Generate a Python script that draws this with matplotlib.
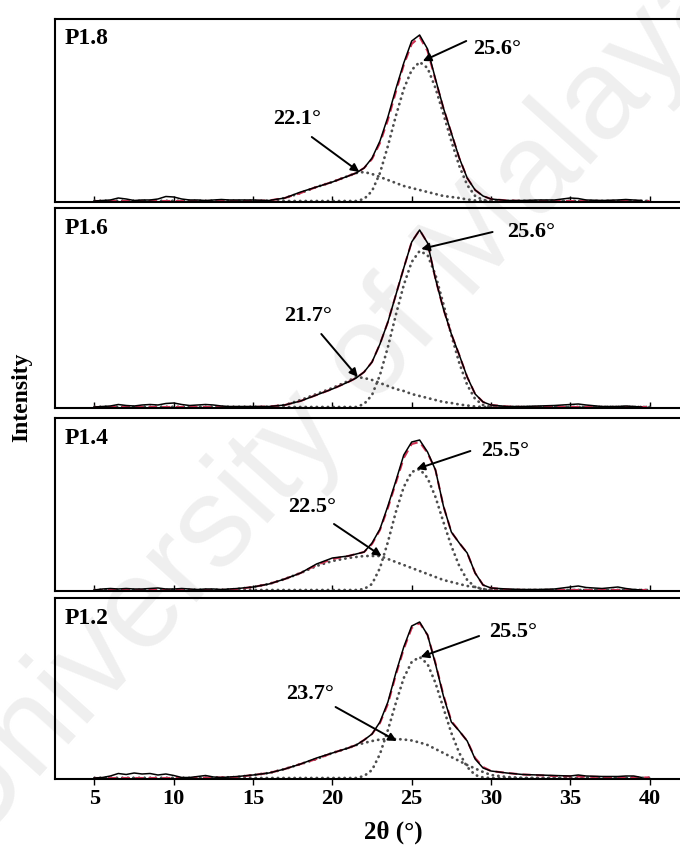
import matplotlib.pyplot as plt

# ---- data (intensity in arbitrary units) ----
panel_names = ['P1.8', 'P1.6', 'P1.4', 'P1.2']

# common 2theta grid for the fitted curves and the two components
two_theta_fit = [5, 7, 9, 11, 13, 14, 15, 16, 17, 18, 19, 20, 21,
                 21.5, 22, 22.5, 23, 23.5, 24, 24.5, 25, 25.5, 26, 26.5, 27,
                 27.5, 28, 28.5, 29, 29.5, 30, 31, 32, 34, 37, 40]

fit_sum = {
    'P1.8': [0, 0, 0, 0, 0, 0, 0, 0.5, 3, 8, 14, 19, 25,
             28, 33, 42, 58, 81, 109, 136, 157, 164, 150, 121, 93,
             68, 43, 23, 11, 5, 2, 0.5, 0, 0, 0, 0],
    'P1.6': [0, 0, 0, 0, 0, 0, 0, 0.5, 2, 6, 12, 18, 25,
             29, 35, 45, 63, 85, 112, 139, 165, 177, 164, 128, 98,
             73, 52, 30, 13, 5, 2, 0.5, 0, 0, 0, 0],
    'P1.4': [0, 0, 0, 0, 0, 1, 3, 6, 11, 17, 25, 31, 34,
             36, 38, 46, 60, 82, 107, 132, 146, 148, 137, 120, 84,
             58, 47, 37, 17, 5, 2, 0.5, 0, 0, 0, 0],
    'P1.2': [0, 0, 0, 0, 0.5, 1, 3, 5, 9, 14, 19, 25, 30,
             33, 38, 44, 55, 74, 103, 129, 150, 155, 143, 115, 83,
             57, 47, 37, 20, 11, 7, 5, 3.5, 2, 1, 0.5],
}

peak_main = {
    'P1.8': [0] * 13 + [0, 2, 10, 28, 55, 85, 112, 131, 139, 133, 113, 87,
                        60, 35, 16, 5, 1, 0] + [0] * 5,
    'P1.6': [0] * 13 + [0, 3, 12, 32, 60, 92, 122, 145, 156, 152, 132, 103,
                        72, 44, 22, 8, 2, 0] + [0] * 5,
    'P1.4': [0] * 13 + [0, 1, 6, 22, 48, 78, 103, 118, 121, 112, 93, 68,
                        44, 24, 10, 3, 0.5, 0] + [0] * 5,
    'P1.2': [0] * 13 + [0, 2, 8, 24, 48, 75, 100, 116, 121, 114, 95, 70,
                        45, 25, 11, 3, 0.5, 0] + [0] * 5,
}

peak_low = {
    'P1.8': [0, 0, 0, 0, 0, 0, 0, 0, 3, 8, 14, 19, 25,
             28, 29, 27, 24, 21, 18, 15, 13, 11, 9, 7, 5,
             4, 3, 1.5, 0.5, 0, 0, 0, 0, 0, 0, 0],
    'P1.6': [0, 0, 0, 0, 0, 0, 0, 0, 2, 7, 13, 19, 26,
             30, 29, 27, 24, 21, 18, 16, 13, 11, 9, 7, 5,
             4, 2.5, 1.5, 0.5, 0, 0, 0, 0, 0, 0, 0],
    'P1.4': [0, 0, 0, 0, 0, 1, 3, 6, 11, 17, 24, 29, 32,
             33, 34, 34, 34, 31, 28, 25, 22, 19, 16, 13, 10,
             8, 6, 4, 3, 1, 0, 0, 0, 0, 0, 0],
    'P1.2': [0, 0, 0, 0, 0.5, 1, 3, 5, 9, 14, 19, 25, 30,
             33, 35, 37, 38.5, 39, 39, 38.5, 37.5, 35.5, 33, 29, 25,
             21, 17, 13, 9.5, 6, 3, 1, 0, 0, 0, 0],
}

# measured pattern
two_theta_obs = [5, 5.5, 6, 6.5, 7, 7.5, 8, 8.5, 9, 9.5, 10, 10.5, 11, 11.5,
                 12, 12.5, 13, 13.5, 14, 15, 16, 17, 18, 19, 20, 21,
                 21.5, 22, 22.5, 23, 23.5, 24, 24.5, 25, 25.5, 26, 26.5, 27,
                 27.5, 28, 28.5, 29, 29.5, 30,
                 31, 32, 33, 34, 35, 35.5, 36, 37, 38, 38.5, 39, 39.5]

measured = {
    'P1.8': [0, 0.5, 1, 3, 2, 0.5, 1, 1, 2, 4.5, 4, 2, 1, 1, 0.5, 1, 1.5, 1, 1,
             1, 0.5, 3, 9, 14, 19, 25,
             28, 33, 43, 60, 84, 112, 138, 160, 166, 152, 122, 93, 68, 43, 23, 11, 5, 2,
             0.5, 0.5, 1, 1, 3, 2.5, 1, 0.5, 1, 1.5, 1, 0.5],
    'P1.6': [0, 0.5, 1, 2.5, 1.5, 1, 2, 2.5, 2, 3.5, 4, 2.5, 1.5, 2, 2.5, 2, 1, 0.5, 0.5,
             0.5, 0.5, 2, 6, 12, 18, 25,
             29, 35, 45, 63, 85, 112, 139, 165, 177, 164, 128, 98, 73, 52, 30, 13, 5, 2,
             0.5, 0.5, 1, 1.5, 2.5, 3, 2, 0.5, 0.5, 1, 0.5, 0],
    'P1.4': [0, 1, 1.5, 1, 1.5, 1, 1, 1.5, 2, 1, 1, 1.5, 1, 0.5, 1, 1, 0.5, 1, 1.5,
             3, 6, 11, 17, 26, 32, 34,
             36, 38, 47, 61, 84, 109, 135, 148, 150, 138, 120, 84, 58, 47, 37, 17, 5, 2,
             1, 0.5, 0.5, 1, 3, 4, 2.5, 1.5, 3, 1.5, 0.5, 0],
    'P1.2': [0, 0.5, 2, 4.5, 3.5, 5, 4, 4.5, 3, 4, 2.5, 0.5, 0.5, 1.5, 2.5, 1, 0.5, 1, 1.5,
             3, 5, 9, 14, 20, 25, 30,
             33, 38, 44, 56, 76, 105, 131, 152, 156, 143, 114, 82, 56, 47, 37, 19, 10, 7,
             5, 3.5, 3, 2.5, 2, 3, 2, 1.5, 1.5, 2, 2, 0.5],
}

# peak labels: (text, text x, text y, align), arrow tail, arrow head
main_labels = ['25.6°', '25.6°', '25.5°', '25.5°']
main_text_xy = [(28.85, 152), (31.0, 175), (29.4, 139), (29.9, 146)]
main_arrow = [((28.44, 160), (25.7, 140)), ((30.1, 175), (25.6, 158)),
              ((28.7, 139), (25.3, 121)), ((29.25, 142), (25.56, 121))]
low_labels = ['22.1°', '21.7°', '22.5°', '23.7°']
low_text_xy = [(17.8, 82), (18.45, 91), (18.7, 83), (18.6, 84)]
low_arrow = [((18.7, 64), (21.7, 29)), ((19.3, 73), (21.6, 30)),
             ((20.1, 66), (23.1, 34)), ((20.2, 71), (24.06, 37))]

x_ticks = [5, 10, 15, 20, 25, 30, 35, 40]

# ---- figure ----
W, H = 680, 846
SERIF = ['Liberation Serif', 'DejaVu Serif']
fig = plt.figure(figsize=(W / 100, H / 100), dpi=100)

# faint watermark behind the panels
fig.text(0.49, 0.525, 'University of Malaya', rotation=48, fontsize=92,
         color='#efefef', ha='center', va='center',
         family=['Liberation Sans', 'DejaVu Sans'], zorder=-5)

panel_px = [(19, 202), (208, 408), (418, 591), (598, 779)]  # top, bottom in pixels
left_px, right_px = 55, 690

for i, name in enumerate(panel_names):
    top, bot = panel_px[i]
    ax = fig.add_axes([left_px / W, 1 - bot / H, (right_px - left_px) / W, (bot - top) / H])
    ax.set_facecolor('none')

    ax.plot(two_theta_fit, peak_low[name], color='#4d4d4d', lw=2.0,
            ls=(0, (0.1, 1.9)), dash_capstyle='round')
    ax.plot(two_theta_fit, peak_main[name], color='#4d4d4d', lw=2.0,
            ls=(0, (0.1, 1.9)), dash_capstyle='round')
    ax.plot(two_theta_fit, fit_sum[name], color='#cf2f52', lw=1.5, ls=(0, (4, 2.5)))
    ax.plot(two_theta_obs, measured[name], color='black', lw=1.1)

    ax.set_xlim(2.51, 2.51 + (right_px - left_px) / 15.86)
    ax.set_ylim(-1, bot - top - 1)
    ax.set_yticks([])
    ax.set_xticks(x_ticks)
    for sp in ax.spines.values():
        sp.set_linewidth(1.5)

    if i < 3:
        ax.tick_params(axis='x', direction='in', length=4, width=1, labelbottom=False)
    else:
        ax.tick_params(axis='x', direction='out', length=4, width=1, pad=3)
        for lab in ax.get_xticklabels():
            lab.set_fontfamily(SERIF)
            lab.set_fontweight('bold')
            lab.set_fontsize(16)

    # sample name
    ax.text(10 / (right_px - left_px), 1 - 20 / (bot - top), name, transform=ax.transAxes,
            ha='left', va='center', fontsize=17, fontweight='bold', family=SERIF)

    # peak annotations
    ax.text(*main_text_xy[i], main_labels[i], ha='left', va='center',
            fontsize=16, fontweight='bold', family=SERIF)
    ax.annotate('', xy=main_arrow[i][1], xytext=main_arrow[i][0],
                arrowprops=dict(arrowstyle='-|>', color='black', lw=1.4,
                                mutation_scale=12, shrinkA=0, shrinkB=0))
    ax.text(*low_text_xy[i], low_labels[i], ha='center', va='center',
            fontsize=16, fontweight='bold', family=SERIF)
    ax.annotate('', xy=low_arrow[i][1], xytext=low_arrow[i][0],
                arrowprops=dict(arrowstyle='-|>', color='black', lw=1.4,
                                mutation_scale=12, shrinkA=0, shrinkB=0))

fig.text(393 / W, 1 - 832 / H, '2θ (°)', ha='center', va='center',
         fontsize=18, fontweight='bold', family=SERIF)
fig.text(22 / W, 1 - 397 / H, 'Intensity', rotation=90, ha='center', va='center',
         fontsize=17, fontweight='bold', family=SERIF)

fig.savefig('out.png', dpi=100)
